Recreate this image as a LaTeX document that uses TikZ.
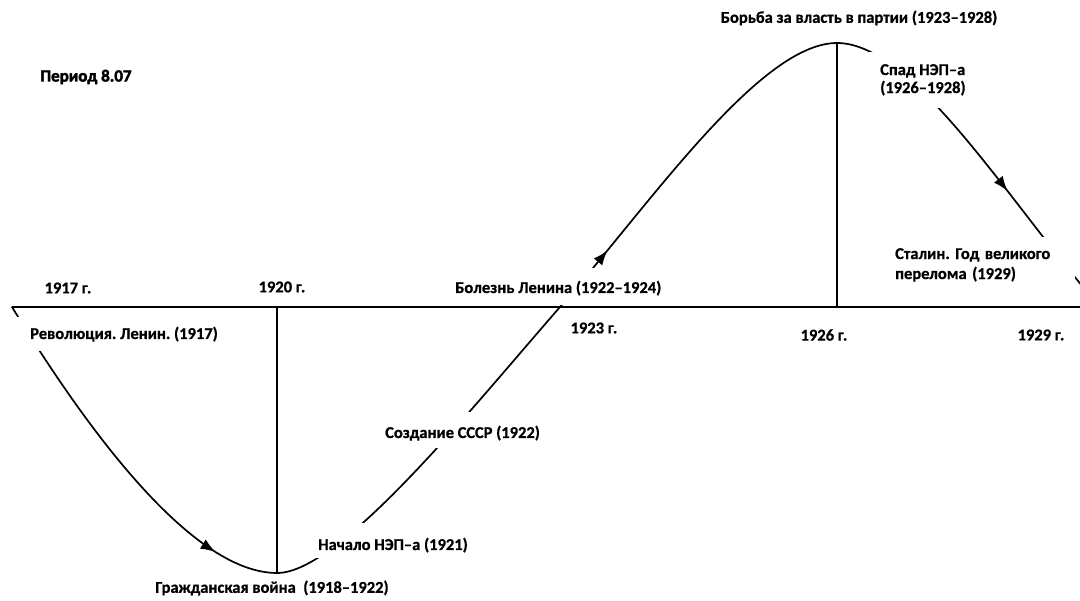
\documentclass[tikz,border=0pt]{standalone}
\usepackage{fontspec}
\setmainfont{Carlito}[BoldFeatures={FakeBold=0.8}]
\newfontfamily\titlefont{Carlito}[BoldFeatures={FakeBold=2.5}]
\usetikzlibrary{arrows.meta,decorations.markings}
\frenchspacing

\begin{document}
\begin{tikzpicture}[x=1pt,y=-1pt,
  lbl/.style={font=\bfseries\fontsize{16.5}{18}\selectfont, inner sep=0pt},
  cover/.style={lbl, fill=white, inner ysep=0pt, anchor=base west},
  boxed/.style={lbl, fill=white, anchor=north west, align=left},
  year/.style={lbl},
  wave/.style={line width=1.7pt, line cap=round},
  rule/.style={line width=1.6pt},
  arrowmark/.style={postaction={decorate},
    decoration={markings, mark=at position #1 with {\arrow{Latex[length=15pt,width=11pt]}}}}
]
\useasboundingbox (0,0) rectangle (1080,601);
\clip (0,0) rectangle (1080,601);

% turning points of the wave
\coordinate (z0)   at (12,307);
\coordinate (low)  at (277,573);
\coordinate (z1)   at (560,307);
\coordinate (high) at (837,43);
\coordinate (z2)   at (1100,307);
\coordinate (axr)  at (1082,307);

% the wave, one quarter at a time
\draw[wave, arrowmark=0.83] (z0) .. controls (60,385) and (180,573) .. (low);
\draw[wave]                 (low) .. controls (340,573) and (470,410) .. (z1);
\draw[wave, arrowmark=0.19] (z1) .. controls (650,204) and (760,43) .. (high);
\draw[wave, arrowmark=0.61] (high) .. controls (914,43) and (1010,204) .. (z2);

% event labels (their white boxes break the wave)
\node[cover, inner xsep=14pt, text height=22pt, text depth=12pt] (rev)   at (16,339)  {Революция. Ленин. (1917)};
\node[cover, inner xsep=8pt,  text height=27pt, text depth=8pt]  (nep)   at (310,550) {Начало НЭП–а (1921)};
\node[cover, inner xsep=6pt,  text height=26pt, text depth=10pt] (ussr)  at (379,438) {Создание СССР (1922)};
\node[cover, inner xsep=6pt,  text height=25pt, text depth=12pt] (lenin) at (449,293) {Болезнь Ленина (1922–1924)};
\node[boxed, inner xsep=12pt, inner ysep=12pt] (spad) at (868,52) {Спад НЭП–а\\ (1926–1928)};
\node[boxed, inner xsep=20pt, inner ysep=11pt, text width=160pt,
      font=\bfseries\fontsize{16.5}{20}\selectfont] (stalin) at (875,237)
  {Сталин. Год великого перелома (1929)};
\node[lbl] (war)   at (272,588) {Гражданская война\ \ (1918–1922)};
\node[lbl] (fight) at (859,18)  {Борьба за власть в партии (1923–1928)};
\node[lbl, font=\titlefont\bfseries\fontsize{17}{19}\selectfont] (title) at (86,77) {Период 8.07};

% time axis and markers
\draw[rule] (z0) -- (axr);
\draw[rule] (low) -- (low |- z0);
\draw[rule] (high) -- (high |- z0);

\node[year] (y1917) at (68,288)   {1917 г.};
\node[year] (y1920) at (282,287)  {1920 г.};
\node[year] (y1923) at (594,328)  {1923 г.};
\node[year] (y1926) at (824,335)  {1926 г.};
\node[year] (y1929) at (1041,335) {1929 г.};
\end{tikzpicture}
\end{document}
